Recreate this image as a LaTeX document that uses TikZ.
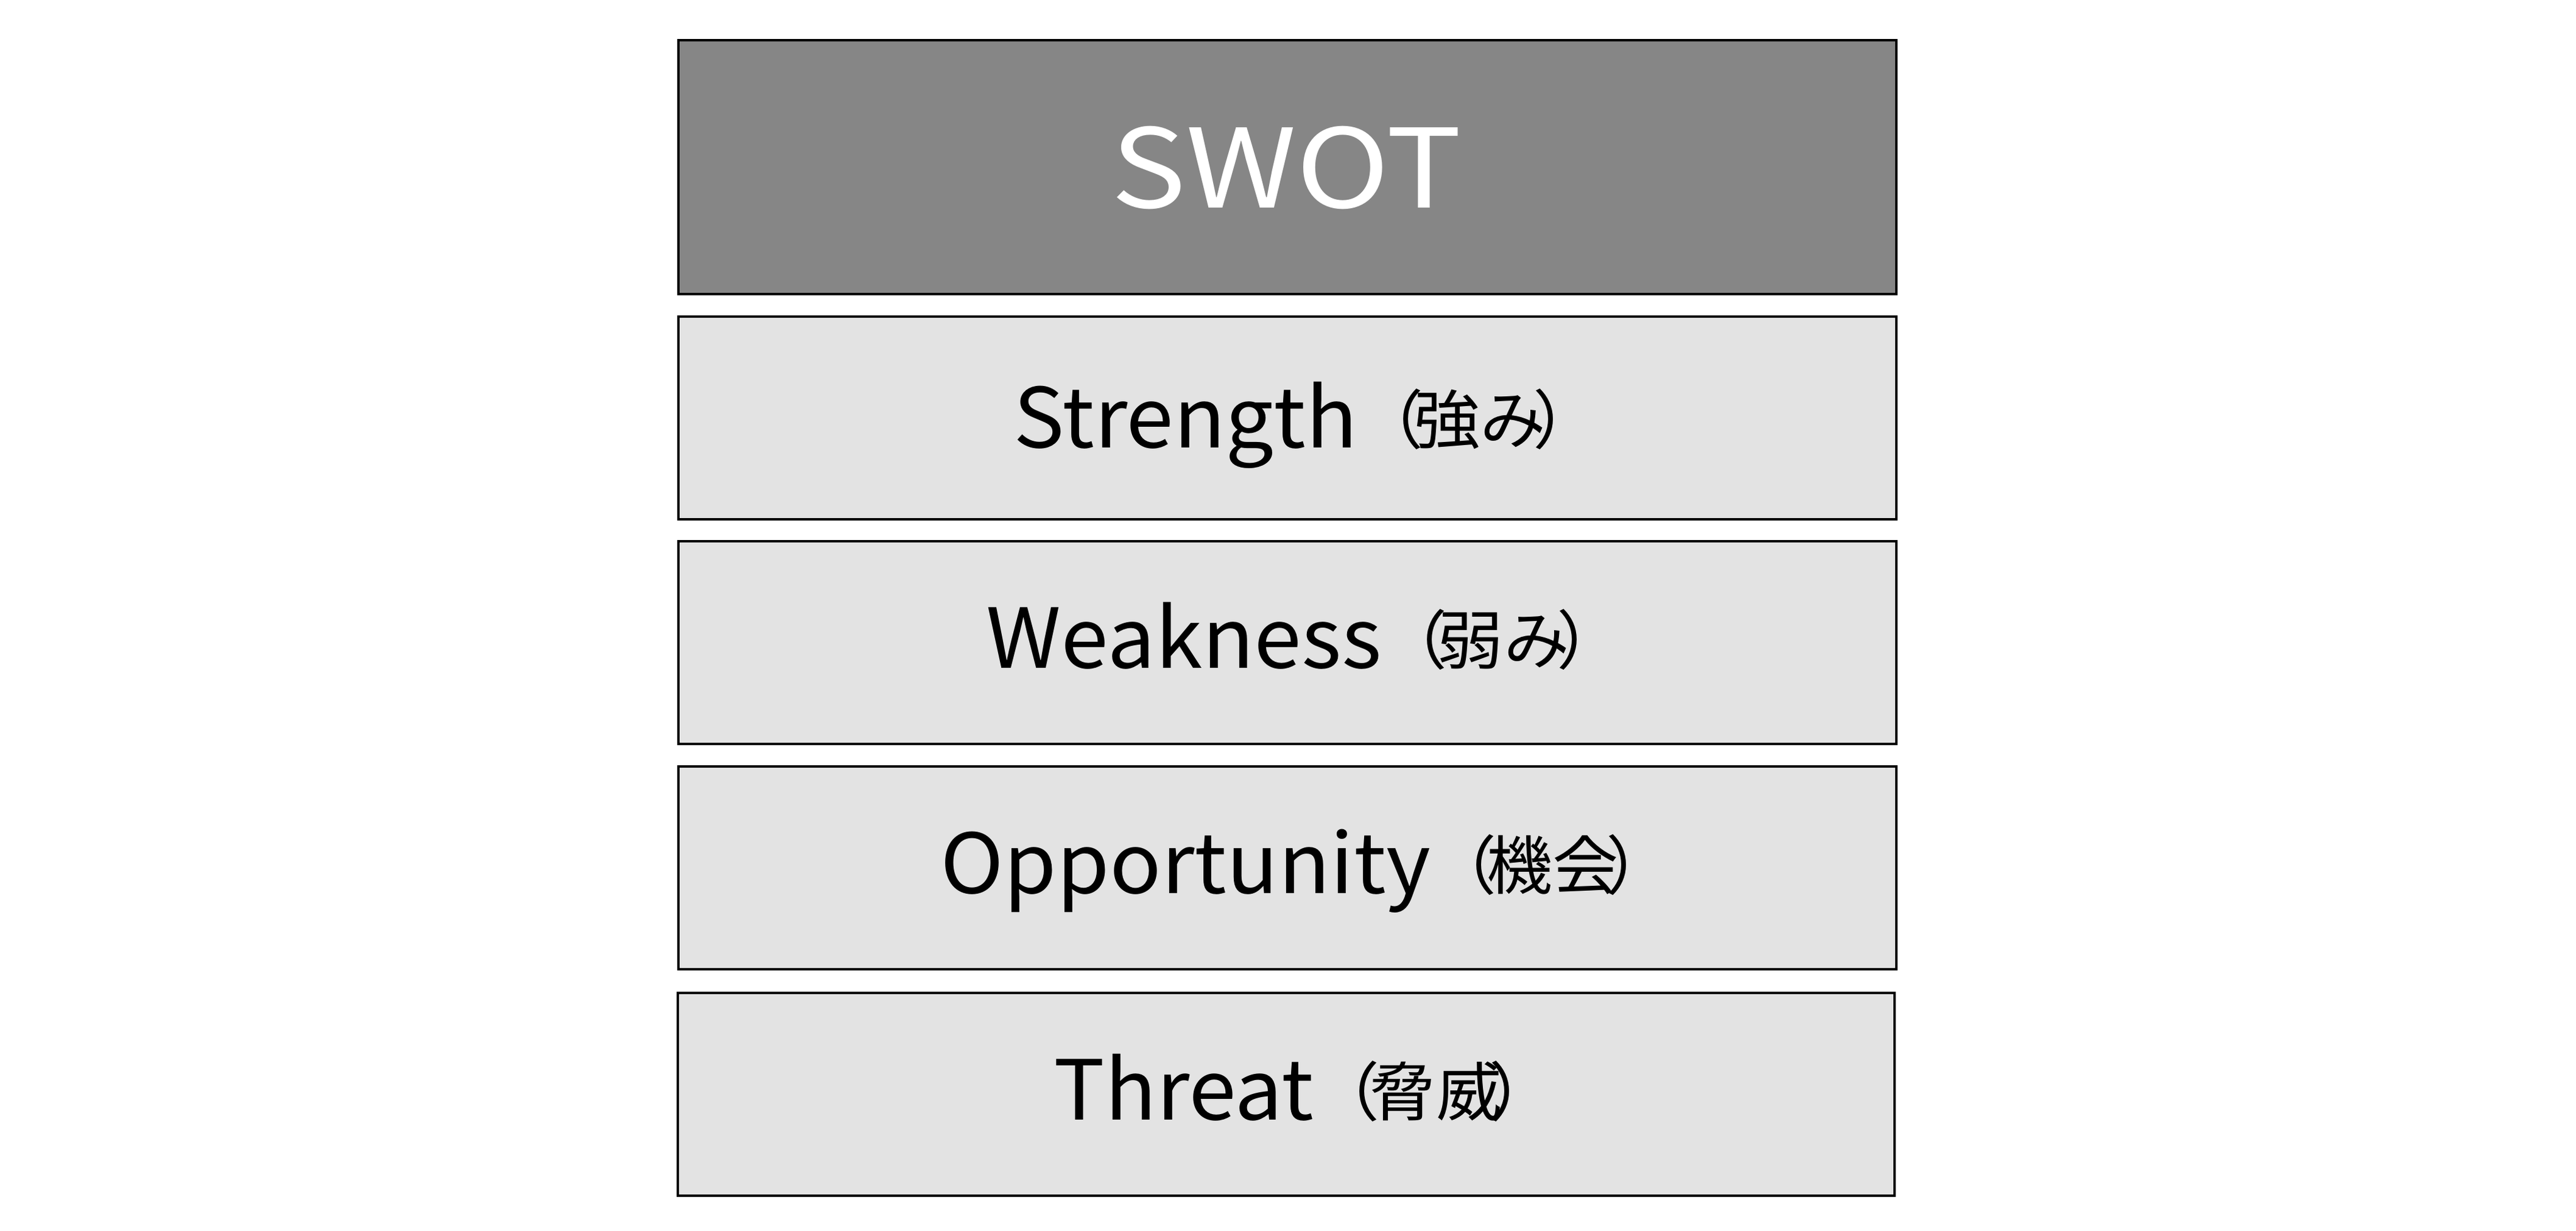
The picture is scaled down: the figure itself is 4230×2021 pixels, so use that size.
\documentclass[tikz,border=0pt]{standalone}
\usepackage{fontspec}
\setmainfont{Noto Sans CJK JP}
\newfontfamily\itemfont[FakeStretch=1.03]{Noto Sans CJK JP}
\newfontfamily\swotfont[FakeStretch=1.15]{Noto Sans CJK JP}
\newcommand{\jpparen}[1]{{\fontsize{10.5pt}{10.5pt}\selectfont\raisebox{0.7pt}{（\kern-0.15em#1\kern-0.2em）}}}
\definecolor{darkbox}{RGB}{134,134,134}
\definecolor{lightbox}{RGB}{227,227,227}
\begin{document}
\begin{tikzpicture}[x=0.1pt,y=-0.1pt,
  boxbase/.style={draw=black,line width=0.4pt,rectangle,inner sep=0pt,outer sep=0pt,minimum width=200pt},
  titlebox/.style={boxbase,fill=darkbox,minimum height=41.7pt},
  itembox/.style={boxbase,fill=lightbox,minimum height=33.3pt},
  titletext/.style={anchor=base,inner sep=0pt,text=white,font=\swotfont\fontsize{18pt}{18pt}\selectfont},
  itemtext/.style={anchor=base,inner sep=0pt,text=black,font=\itemfont\fontsize{13.6pt}{13.6pt}\selectfont}]
\useasboundingbox (0,0) rectangle (4230,2021);
\fill[white] (0,0) rectangle (4230,2021);
\node[titlebox] (swot) at (2114,274.5) {};
\node[itembox] (s) at (2114,686) {};
\node[itembox] (w) at (2114,1055.5) {};
\node[itembox] (o) at (2114,1425) {};
\node[itembox,minimum width=199.8pt] (t) at (2112,1797.5) {};
\node[titletext] (swott) at (2112,341) {SWOT};
\node[itemtext] (st) at (2145,735) {Strength\jpparen{強み}};
\node[itemtext] (wt) at (2142,1097) {Weakness\jpparen{弱み}};
\node[itemtext] (ot) at (2145,1467) {Opportunity\jpparen{機会}};
\node[itemtext] (tt) at (2142,1839) {Threat\jpparen{脅威}};
\end{tikzpicture}
\end{document}
